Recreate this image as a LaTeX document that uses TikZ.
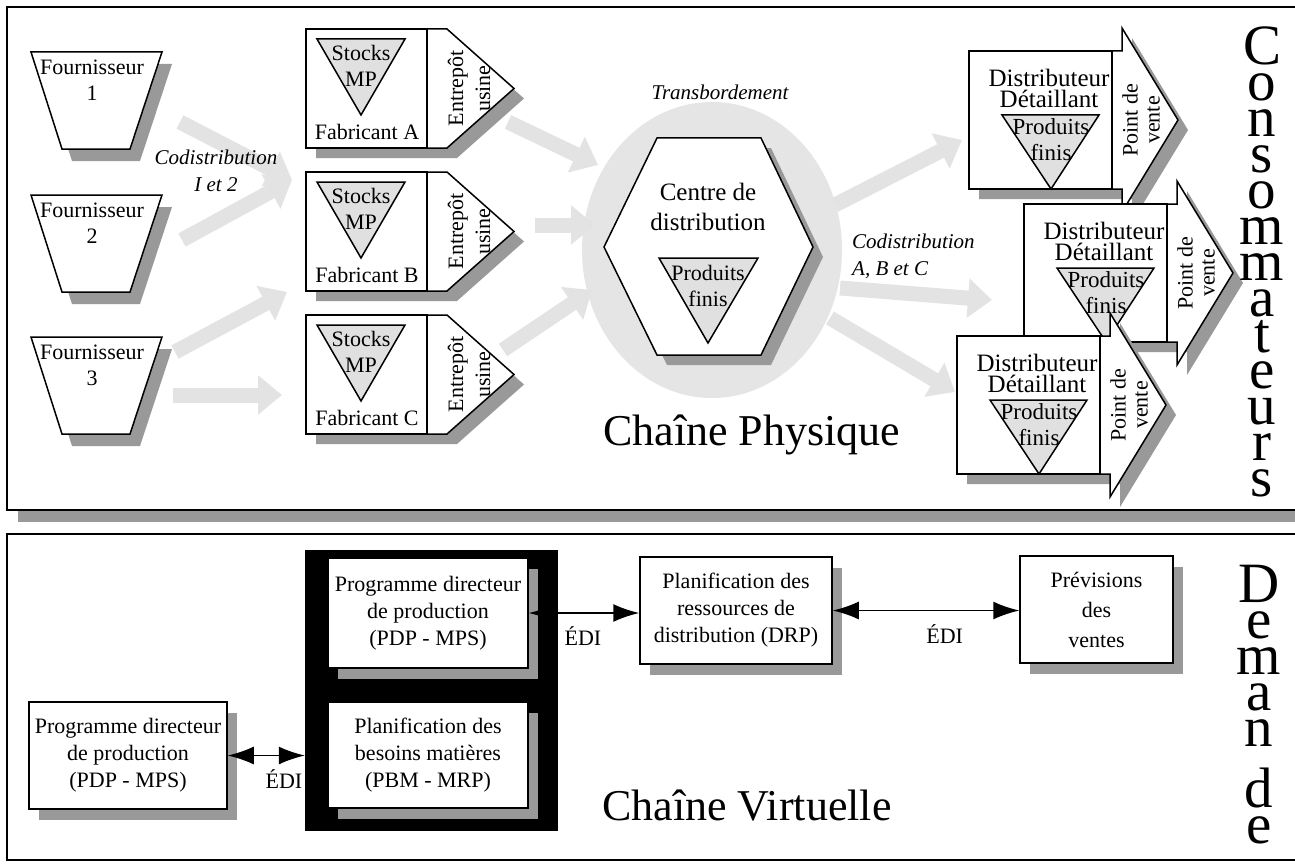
\documentclass[tikz,border=0pt]{standalone}
\usepackage{fontspec}
\setmainfont{Liberation Serif}
\usetikzlibrary{arrows.meta,shadows}

\newcommand{\tightlines}{\lineskip=21pt\relax\lineskiplimit=0pt\relax}

\tikzset{
  shadowfill/.style={fill=black!40},
  outline/.style={draw, fill=white, line width=1.5pt, line join=miter},
  stockfill/.style={draw, fill=black!12, line width=1.5pt, line join=miter},
  lbl/.style={align=center, inner sep=0pt, font=\fontsize{22}{26}\selectfont},
  ital/.style={align=center, inner sep=0pt, font=\fontsize{21}{27}\selectfont\itshape},
  bigword/.style={align=center, inner sep=0pt,
    font={\fontsize{57}{36}\selectfont\tightlines}},
  bigtitle/.style={inner sep=0pt, font=\fontsize{44}{44}\selectfont},
  flow/.style={draw=black!11, line width=15pt, -{Triangle[length=24pt,width=38pt]}},
  planbox/.style={draw, fill=white, line width=1.5pt, align=center, inner sep=2pt,
    font=\fontsize{22}{27}\selectfont,
    drop shadow={shadow xshift=10pt, shadow yshift=-11pt, fill=black!40, opacity=1}},
  edi/.style={{Latex[length=26pt,width=18pt]}-{Latex[length=26pt,width=18pt]}, line width=1.6pt},
  edilbl/.style={below=13pt, inner sep=0pt, font=\fontsize{22}{26}\selectfont}
}

% #1 top y, #2 number, #3 node name
\newcommand{\fournisseur}[3]{
\begin{scope}[shift={(0,#1)}]
\fill[shadowfill] (41,12) -- (172,12) -- (140,109) -- (72,109) -- cycle;
\draw[outline] (31,0) -- (162,0) -- (130,97) -- (62,97) -- cycle;
\node[lbl] (#3) at (92,28) {Fournisseur\\#2};
\end{scope}}

% #1 top y, #2 letter, #3 node name
\newcommand{\fabricant}[3]{
\begin{scope}[shift={(0,#1)}]
\fill[shadowfill] (316,10) -- (457,10) -- (524,69.5) -- (457,129) -- (316,129) -- cycle;
\draw[outline] (306,0) rectangle (427,119);
\draw[outline] (427,0) -- (447,0) -- (514,59.5) -- (447,119) -- (427,119) -- cycle;
\draw[stockfill] (317,10) -- (405,10) -- (361,86) -- cycle;
\node[lbl] (#3mp) at (361,37) {Stocks\\MP};
\node[lbl] (#3) at (367,103) {Fabricant #2};
\node[lbl, rotate=90, font=\fontsize{22}{27}\selectfont] (#3ent) at (469,59.5) {Entrepôt\\usine};
\end{scope}}

% #1 x, #2 y (top left of the box), #3 node name
\newcommand{\distributeur}[3]{
\begin{scope}[shift={(#1,#2)}]
\fill[shadowfill] (10,10) -- (163,10) -- (163,-13) -- (219,79) -- (163,171) -- (163,148) -- (10,148) -- cycle;
\draw[outline] (143,0) -- (153,0) -- (153,-23) -- (209,69) -- (153,161) -- (153,138) -- (143,138) -- cycle;
\draw[outline] (0,0) rectangle (143,138);
\node[lbl, font=\fontsize{25}{21}\selectfont] (#3) at (80,37) {Distributeur\\Détaillant};
\draw[stockfill] (33,64) -- (130,64) -- (82,138) -- cycle;
\node[lbl, font=\fontsize{23}{26}\selectfont] (#3pf) at (82,89) {Produits\\finis};
\node[lbl, rotate=90, font=\fontsize{22}{22}\selectfont] (#3pv) at (172,69) {Point de\\vente};
\end{scope}}

\begin{document}
\begin{tikzpicture}[x=1pt,y=-1pt]
\clip (0,0) rectangle (1295,864);
\fill[white] (0,0) rectangle (1295,864);

% chaine physique
\fill[shadowfill] (18,510) rectangle (1310,522);
\draw[line width=2pt] (7,7) rectangle (1310,510);

\fill[black!10] (712,250) ellipse [x radius=130, y radius=148];

\coordinate (f1out) at (180,122);
\coordinate (f2out) at (182,240);
\coordinate (fabABin) at (292,180);
\coordinate (f3outa) at (175,352);
\coordinate (fabBin) at (287,292);
\coordinate (f3outb) at (173,395);
\coordinate (fabCin) at (282,395);
\coordinate (fabAout) at (508,122);
\coordinate (hexinA) at (598,165);
\coordinate (fabBout) at (535,225);
\coordinate (hexinB) at (595,225);
\coordinate (fabCout) at (503,350);
\coordinate (hexinC) at (592,290);
\coordinate (hexoutA) at (835,205);
\coordinate (d1in) at (962,140);
\coordinate (hexoutB) at (840,288);
\coordinate (d2in) at (992,300);
\coordinate (hexoutC) at (830,318);
\coordinate (d3in) at (955,392);

\draw[flow] (f1out) -- (fabABin);
\draw[flow] (f2out) -- (fabABin);
\draw[flow] (f3outa) -- (fabBin);
\draw[flow] (f3outb) -- (fabCin);
\draw[flow] (fabAout) -- (hexinA);
\draw[flow] (fabBout) -- (hexinB);
\draw[flow] (fabCout) -- (hexinC);
\draw[flow] (hexoutA) -- (d1in);
\draw[flow] (hexoutB) -- (d2in);
\draw[flow] (hexoutC) -- (d3in);

\fournisseur{52}{1}{four1}
\fournisseur{195}{2}{four2}
\fournisseur{337}{3}{four3}

\fabricant{29}{A}{fabA}
\fabricant{172}{B}{fabB}
\fabricant{315}{C}{fabC}

\node[ital] (codi12) at (216,171) {Codistribution\\I et 2};

% centre de distribution
\fill[shadowfill] (667,148) -- (771,148) -- (823,257) -- (771,365) -- (667,365) -- (614,257) -- cycle;
\draw[outline] (657,138) -- (761,138) -- (813,247) -- (761,355) -- (657,355) -- (604,247) -- cycle;
\node[lbl, font=\fontsize{25}{30}\selectfont] (cdist) at (708,207) {Centre de\\distribution};
\draw[stockfill] (659,258) -- (758,258) -- (708,343) -- cycle;
\node[lbl] (cdistpf) at (708,286) {Produits\\finis};
\node[ital] (transb) at (720,92) {Transbordement};

\node[ital, align=left, anchor=west] (codiabc) at (852,256) {Codistribution\\A, B et C};

\distributeur{969}{51}{dist1}
\distributeur{1024}{204}{dist2}
\distributeur{957}{336}{dist3}

\node[bigtitle, anchor=base west] (physique) at (603,445) {Chaîne Physique};

\node[bigword, anchor=north] (conso) at (1262,27) {C\\o\\n\\s\\o\\m\\m\\a\\t\\e\\u\\r\\s};

% chaine virtuelle
\draw[line width=2pt] (7,534) rectangle (1310,860);

\node[fill=black, minimum width=253, minimum height=281, inner sep=0pt] (mrpblock) at (431.5,690.5) {};
\node[planbox, minimum width=200, minimum height=110] (pdp) at (428,613) {Programme directeur\\de production\\(PDP - MPS)};
\node[planbox, minimum width=200, minimum height=106] (pbm) at (428,755) {Planification des\\besoins matières\\(PBM - MRP)};
\node[planbox, minimum width=198, minimum height=107] (pdpfour) at (128,755.5) {Programme directeur\\de production\\(PDP - MPS)};
\node[planbox, minimum width=192, minimum height=107] (drp) at (736,610.5) {Planification des\\ressources de\\distribution (DRP)};
\node[planbox, minimum width=153, minimum height=107, font=\fontsize{22}{30}\selectfont] (prev) at (1096.5,609.5) {Prévisions\\des\\ventes};

\draw[edi] (pdpfour.east) -- (pdpfour.east -| mrpblock.west) node[edilbl, pos=0.73] (edi1) {ÉDI};
\draw[edi] (pdp.east) -- (pdp.east -| drp.west) node[edilbl, pos=0.49] (edi2) {ÉDI};
\draw[edi] (drp.east) -- (drp.east -| prev.west) node[edilbl, pos=0.6] (edi3) {ÉDI};

\node[bigtitle, anchor=base west] (virtuelle) at (602,820) {Chaîne Virtuelle};

\node[bigword, anchor=north] (demande) at (1259,565) {D\\e\\m\\a\\n\\d\\e};
\end{tikzpicture}
\end{document}
